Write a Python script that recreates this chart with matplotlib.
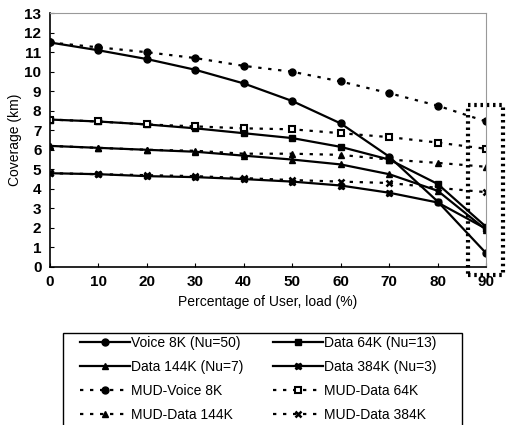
import matplotlib
matplotlib.use('Agg')
import matplotlib.pyplot as plt
from matplotlib.patches import Rectangle

plt.rcParams['font.family'] = ['Liberation Sans', 'DejaVu Sans']

load = [0, 10, 20, 30, 40, 50, 60, 70, 80, 90]

voice_8k = [11.5, 11.1, 10.65, 10.1, 9.4, 8.5, 7.35, 5.65, 3.35, 0.7]
data_64k = [7.55, 7.45, 7.3, 7.1, 6.85, 6.6, 6.15, 5.5, 4.25, 2.05]
data_144k = [6.2, 6.1, 6.0, 5.9, 5.7, 5.5, 5.25, 4.75, 3.9, 1.9]
data_384k = [4.8, 4.75, 4.65, 4.6, 4.5, 4.37, 4.17, 3.8, 3.3, 1.95]

mud_voice_8k = [11.5, 11.25, 11.0, 10.7, 10.3, 10.0, 9.5, 8.9, 8.26, 7.45]
mud_data_64k = [7.55, 7.45, 7.3, 7.2, 7.1, 7.05, 6.85, 6.65, 6.37, 6.05]
mud_data_144k = [6.2, 6.1, 6.0, 5.95, 5.8, 5.8, 5.74, 5.5, 5.33, 5.13]
mud_data_384k = [4.8, 4.75, 4.7, 4.65, 4.55, 4.45, 4.37, 4.3, 4.05, 3.83]

fig = plt.figure(figsize=(5.08, 4.25), dpi=100)
ax = fig.add_axes([0.098, 0.372, 0.859, 0.597])

solid = dict(color='black', lw=1.6, ms=5)
dashed = dict(color='black', lw=1.6, ls=(0, (1.5, 3)), ms=5)

h1, = ax.plot(load, voice_8k, marker='o', label='Voice 8K (Nu=50)', **solid)
h2, = ax.plot(load, data_64k, marker='s', label='Data 64K (Nu=13)', **solid)
h3, = ax.plot(load, data_144k, marker='^', label='Data 144K (Nu=7)', **solid)
h4, = ax.plot(load, data_384k, marker='X', label='Data 384K (Nu=3)', **solid)
h5, = ax.plot(load, mud_voice_8k, marker='o', label='MUD-Voice 8K', **dashed)
h6, = ax.plot(load, mud_data_64k, marker='s', mfc='white', mew=1.5,
              label='MUD-Data 64K', **dashed)
h7, = ax.plot(load, mud_data_144k, marker='^', label='MUD-Data 144K', **dashed)
h8, = ax.plot(load, mud_data_384k, marker='x', mew=1.8, label='MUD-Data 384K', **dashed)

# dotted box highlighting the 90% load column
ax.add_patch(Rectangle((86.3, -0.4), 7.2, 8.7, fill=False, ec='black',
                       lw=3, ls=(0, (0.6, 0.9)), clip_on=False))

ax.set_xlim(0, 90)
ax.set_ylim(0, 13)
ax.set_xticks(load)
ax.set_yticks(range(0, 14))
ax.tick_params(direction='in', length=3, labelsize=11, pad=6)
for lab in ax.get_xticklabels() + ax.get_yticklabels():
    lab.set_fontweight('bold')
for s in ['top', 'right']:
    ax.spines[s].set_color('#999999')
    ax.spines[s].set_linewidth(0.8)
for s in ['left', 'bottom']:
    ax.spines[s].set_linewidth(1.2)

ax.set_xlabel('Percentage of User, load (%)', fontsize=10, labelpad=4)
ax.set_ylabel('Coverage (km)', fontsize=10, labelpad=2)

handles = [h1, h3, h5, h7, h2, h4, h6, h8]
leg = fig.legend(handles=handles, ncol=2, loc='upper left',
                 bbox_to_anchor=(0.157, 0.21), fontsize=10, frameon=False,
                 handlelength=3.6, handletextpad=0.1, columnspacing=2.1,
                 labelspacing=0.72, borderpad=0, borderaxespad=0)

# legend frame runs off the bottom of the image
fig.add_artist(Rectangle((0.124, -0.05), 0.785, 0.2665, transform=fig.transFigure,
                         fill=False, ec='black', lw=1.0))

fig.savefig('out.png', dpi=100)
